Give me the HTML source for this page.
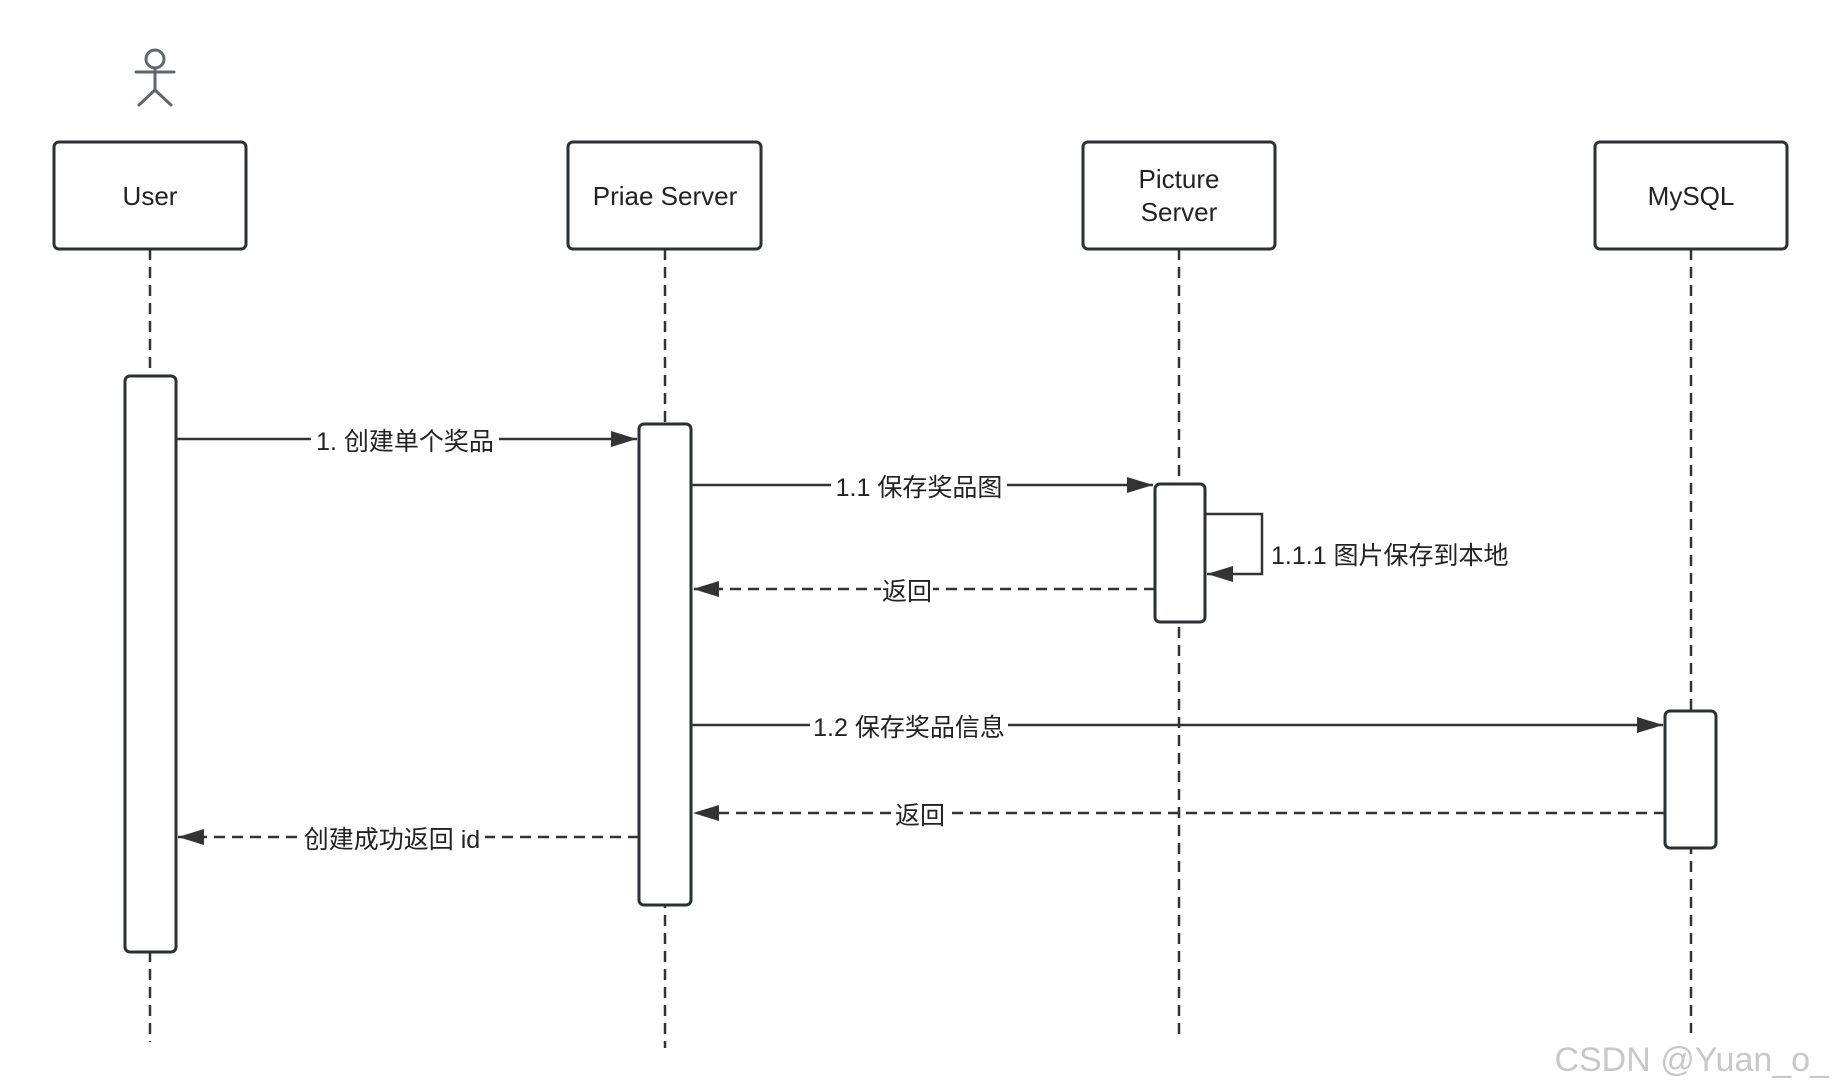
<!DOCTYPE html>
<html><head><meta charset="utf-8"><style>
html,body{margin:0;padding:0;background:#fff}
svg{display:block}
text{font-family:"Liberation Sans","Noto Sans CJK SC",sans-serif;fill:#222}
</style></head><body>
<svg width="1834" height="1091" viewBox="0 0 1834 1091" xmlns="http://www.w3.org/2000/svg">
<defs>
<marker id="ah2" markerWidth="26" markerHeight="16" refX="26" refY="8" orient="auto" markerUnits="userSpaceOnUse" viewBox="0 0 26 16">
<path d="M0,0 L26,8 L0,16 z" fill="#333"/></marker>
</defs>
<g stroke="#5f6670" stroke-width="3" fill="none" stroke-linecap="round">
<circle cx="155" cy="59" r="9"/>
<line x1="155" y1="68" x2="155" y2="90"/>
<line x1="136" y1="72" x2="174" y2="72"/>
<line x1="155" y1="90" x2="139" y2="105"/>
<line x1="155" y1="90" x2="171" y2="105"/>
</g>
<g stroke="#333" stroke-width="2.5" stroke-dasharray="11,7" fill="none">
<line x1="150" y1="249" x2="150" y2="1042"/>
<line x1="665" y1="249" x2="665" y2="1048"/>
<line x1="1179" y1="249" x2="1179" y2="1039"/>
<line x1="1691" y1="249" x2="1691" y2="1033"/>
</g>
<g stroke="#2b2f36" stroke-width="3" fill="#fff">
<rect x="54" y="142" width="192" height="107" rx="5"/>
<rect x="568" y="142" width="193" height="107" rx="5"/>
<rect x="1083" y="142" width="192" height="107" rx="5"/>
<rect x="1595" y="142" width="192" height="107" rx="5"/>
<rect x="125" y="376" width="51" height="576" rx="5"/>
<rect x="639" y="424" width="52" height="481" rx="5"/>
<rect x="1155" y="484" width="50" height="138" rx="5"/>
<rect x="1665" y="711" width="51" height="137" rx="5"/>
</g>
<g font-size="26" text-anchor="middle">
<text x="150" y="205">User</text>
<text x="665" y="205">Priae Server</text>
<text x="1179" y="188">Picture</text>
<text x="1179" y="221">Server</text>
<text x="1691" y="205">MySQL</text>
</g>
<g stroke="#333" stroke-width="2.5" fill="none">
<line x1="176" y1="439" x2="637" y2="439" marker-end="url(#ah2)"/>
<line x1="691" y1="485" x2="1153" y2="485" marker-end="url(#ah2)"/>
<polyline points="1205,514 1262,514 1262,574 1207,574" marker-end="url(#ah2)"/>
<line x1="1155" y1="589" x2="693" y2="589" stroke-dasharray="11,7" marker-end="url(#ah2)"/>
<line x1="691" y1="725" x2="1663" y2="725" marker-end="url(#ah2)"/>
<line x1="1665" y1="813" x2="693" y2="813" stroke-dasharray="11,7" marker-end="url(#ah2)"/>
<line x1="639" y1="837" x2="178" y2="837" stroke-dasharray="11,7" marker-end="url(#ah2)"/>
</g>
<g font-size="25" text-anchor="middle">
<rect x="311" y="425" width="188" height="28" fill="#fff"/>
<text x="405" y="450">1. 创建单个奖品</text>
<rect x="831" y="471" width="176" height="28" fill="#fff"/>
<text x="919" y="496">1.1 保存奖品图</text>
<rect x="881" y="575" width="52" height="28" fill="#fff"/>
<text x="907" y="600">返回</text>
<rect x="810" y="711" width="198" height="28" fill="#fff"/>
<text x="909" y="736">1.2 保存奖品信息</text>
<rect x="894" y="799" width="52" height="28" fill="#fff"/>
<text x="920" y="824">返回</text>
<rect x="299" y="823" width="186" height="28" fill="#fff"/>
<text x="392" y="848">创建成功返回 id</text>
<text x="1271" y="564" text-anchor="start">1.1.1 图片保存到本地</text>
</g>
<text x="1829" y="1071" font-size="34" text-anchor="end" style="fill:#c8c8c8">CSDN @Yuan_o_</text>
</svg>
</body></html>
